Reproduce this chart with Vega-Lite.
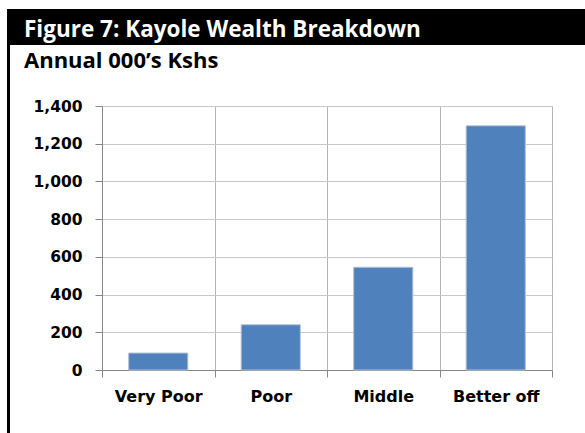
{
  "$schema": "https://vega.github.io/schema/vega-lite/v6.json",
  "background": "white",
  "padding": {"left": 7, "top": 9, "right": 0, "bottom": 0},
  "config": {
    "concat": {"spacing": 0},
    "axis": {
      "labelFont": "DejaVu Sans",
      "labelFontWeight": "bold",
      "labelColor": "black",
      "domainColor": "#868686",
      "tickColor": "#868686",
      "tickSize": 7
    }
  },
  "datasets": {
    "wealth": [
      {"category": "Very Poor", "value": 90},
      {"category": "Poor", "value": 240},
      {"category": "Middle", "value": 545},
      {"category": "Better off", "value": 1295}
    ],
    "blank": [{"k": 1}]
  },
  "align": "none",
  "hconcat": [
    {
      "width": 3,
      "height": 424,
      "view": {"fill": "black", "stroke": null},
      "data": {"name": "blank"},
      "mark": {"type": "rect", "color": "black"},
      "encoding": {}
    },
    {
      "spacing": 5,
      "vconcat": [
        {
          "width": 575,
          "height": 36,
          "view": {"fill": "black", "stroke": null},
          "data": {"name": "blank"},
          "mark": {"type": "rect", "color": "black"},
          "encoding": {},
          "title": {
            "text": "Figure 7: Kayole Wealth Breakdown",
            "anchor": "start",
            "frame": "group",
            "dx": 14,
            "offset": -50,
            "baseline": "alphabetic",
            "font": "Open Sans",
            "fontSize": 22.5,
            "fontWeight": "bold",
            "color": "white"
          }
        },
        {
          "spacing": 0,
          "hconcat": [
            {
              "width": 14,
              "height": 1,
              "view": {"stroke": null, "fill": null},
              "data": {"name": "blank"},
              "mark": {"type": "rect", "opacity": 0},
              "encoding": {}
            },
            {
              "width": 450,
              "height": 264,
              "view": {"stroke": null},
              "data": {"name": "wealth"},
              "title": {
                "text": "Annual 000’s Kshs",
                "anchor": "start",
                "frame": "group",
                "dx": -78,
                "offset": 9,
                "baseline": "alphabetic",
                "font": "Open Sans",
                "fontSize": 22,
                "fontWeight": "bold",
                "color": "black"
              },
              "mark": {
                "type": "bar",
                "fill": "#4F81BD",
                "stroke": "#b8c2d2",
                "strokeWidth": 1,
                "width": {"band": 0.526}
              },
              "encoding": {
                "x": {
                  "field": "category",
                  "type": "nominal",
                  "sort": null,
                  "scale": {"paddingInner": 0, "paddingOuter": 0},
                  "axis": {
                    "title": null,
                    "labelAngle": 0,
                    "labelFontSize": 16,
                    "labelPadding": 11,
                    "tickBand": "extent",
                    "grid": true,
                    "gridColor": "#b4b4b4"
                  }
                },
                "y": {
                  "field": "value",
                  "type": "quantitative",
                  "scale": {"domain": [0, 1400], "nice": false},
                  "axis": {
                    "title": null,
                    "values": [0, 200, 400, 600, 800, 1000, 1200, 1400],
                    "format": ",d",
                    "labelFontSize": 15.5,
                    "labelPadding": 13,
                    "grid": true,
                    "gridColor": "#c8c8c8"
                  }
                }
              }
            }
          ]
        }
      ]
    }
  ]
}
